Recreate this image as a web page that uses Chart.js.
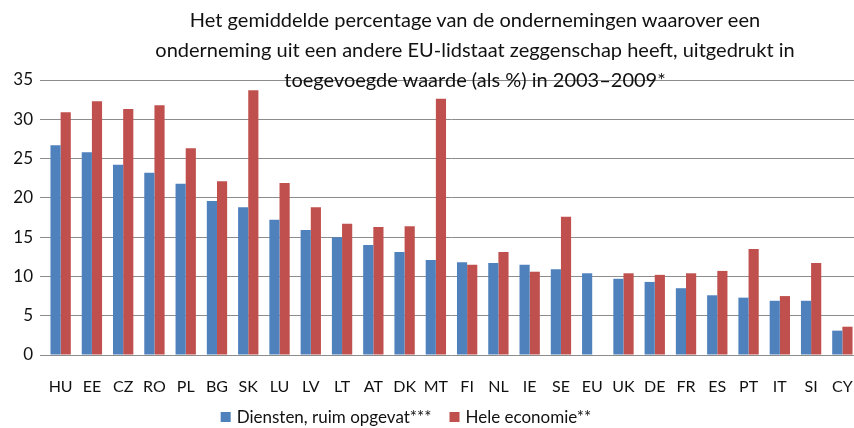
<!DOCTYPE html>
<html lang="nl">
<head>
    <meta charset="UTF-8">
    <title>Zeggenschap EU-lidstaat</title>
    <script src="https://cdn.jsdelivr.net/npm/chart.js"></script>
    <style>
        html, body { margin: 0; padding: 0; background: #fff; overflow: hidden; }
        #wrap { position: relative; width: 858px; height: 428px; }
        #title {
            position: absolute; left: 0; top: 4px; width: 950px;
            text-align: center; font-family: Lato, sans-serif; font-size: 20px;
            line-height: 30px; color: #111; pointer-events: none; z-index: 2;
        }
    </style>
</head>
<body>
<div id="wrap">
    <div id="title">Het gemiddelde percentage van de ondernemingen waarover een<br>onderneming uit een andere EU-lidstaat zeggenschap heeft, uitgedrukt in<br>toegevoegde waarde (als %) in 2003–2009*</div>
    <canvas id="chart" width="858" height="428"></canvas>
</div>
<script>
    const landen = ['HU', 'EE', 'CZ', 'RO', 'PL', 'BG', 'SK', 'LU', 'LV', 'LT', 'AT', 'DK', 'MT', 'FI', 'NL', 'IE', 'SE', 'EU', 'UK', 'DE', 'FR', 'ES', 'PT', 'IT', 'SI', 'CY'];
    const diensten = [26.7, 25.8, 24.2, 23.2, 21.8, 19.6, 18.8, 17.2, 15.9, 15.0, 14.0, 13.1, 12.1, 11.8, 11.7, 11.5, 10.9, 10.4, 9.7, 9.3, 8.5, 7.6, 7.3, 6.9, 6.9, 3.1];
    const heleEconomie = [30.9, 32.3, 31.3, 31.8, 26.3, 22.1, 33.7, 21.9, 18.8, 16.7, 16.3, 16.4, 32.6, 11.5, 13.1, 10.6, 17.6, null, 10.4, 10.2, 10.4, 10.7, 13.5, 7.5, 11.7, 3.6];
    const yTicks = [0, 5, 10, 15, 20, 25, 30, 35];

    // simple bottom legend, drawn by hand so it sits where the original has it
    const bottomLegend = {
        id: 'bottomLegend',
        afterDraw(chart) {
            const c = chart.ctx;
            const box = 10, gapText = 6, gapItem = 18, cy = 417, centre = 406;
            c.save();
            c.font = '17px Lato';
            c.textBaseline = 'middle';
            const items = chart.data.datasets.map(ds => ({
                label: ds.label, color: ds.backgroundColor,
                w: box + gapText + c.measureText(ds.label).width
            }));
            const total = items.reduce((a, it) => a + it.w, 0) + gapItem * (items.length - 1);
            let x = centre - total / 2;
            items.forEach(it => {
                c.fillStyle = it.color;
                c.fillRect(x, cy - box / 2, box, box);
                c.fillStyle = '#111';
                c.fillText(it.label, x + box + gapText, cy + 1);
                x += it.w + gapItem;
            });
            c.restore();
        }
    };

    const ctx = document.getElementById('chart').getContext('2d');
    new Chart(ctx, {
        type: 'bar',
        data: {
            labels: landen,
            datasets: [{
                label: 'Diensten, ruim opgevat***',
                data: diensten,
                backgroundColor: '#4F81BD',
                categoryPercentage: 0.65,
                barPercentage: 1.0
            }, {
                label: 'Hele economie**',
                data: heleEconomie,
                backgroundColor: '#C0504D',
                categoryPercentage: 0.65,
                barPercentage: 1.0
            }]
        },
        options: {
            responsive: false,
            animation: false,
            layout: { padding: { top: 80, right: 0, left: 0, bottom: 0 } },
            plugins: {
                legend: { display: false },
                tooltip: { enabled: false }
            },
            scales: {
                x: {
                    // tickLength gives the vertical gap; ticks.padding would also eat width on the right
                    grid: { display: false, drawTicks: true, tickLength: 22 },
                    border: { display: false },
                    ticks: {
                        color: '#111', padding: 0, maxRotation: 0, autoSkip: false,
                        font: { family: 'Lato', size: 16 }
                    },
                    afterFit: s => { s.height = 73; }
                },
                y: {
                    min: 0, max: 35,
                    afterBuildTicks: s => { s.ticks = yTicks.map(v => ({ value: v })); },
                    grid: { color: '#8c8c8c', lineWidth: 1, tickLength: 5 },
                    border: { display: false },
                    ticks: {
                        color: '#111', padding: 7,
                        font: { family: 'Lato', size: 17 }
                    },
                    afterFit: s => { s.width = 45; }
                }
            }
        },
        plugins: [bottomLegend]
    });
</script>
</body>
</html>
